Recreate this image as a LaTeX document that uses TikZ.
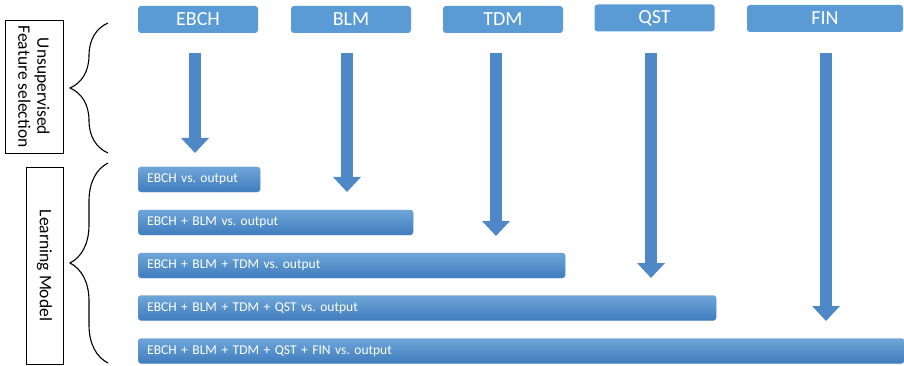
\documentclass[tikz,border=0pt]{standalone}
\usepackage{fontspec}
\setmainfont{Carlito}
\usepackage{tikz}
\usetikzlibrary{positioning, arrows.meta, decorations.pathreplacing}

\definecolor{hdblue}{RGB}{91,155,213}
\definecolor{obtop}{RGB}{110,166,217}
\definecolor{obbot}{RGB}{64,124,189}
\definecolor{arblue}{RGB}{79,136,199}

\begin{document}
\begin{tikzpicture}[x=1pt, y=-1pt,
      hd/.style={fill=hdblue, rounded corners=3pt, minimum width=120pt, minimum height=27pt,
        inner sep=0pt, text=white, font=\fontsize{20}{23}\selectfont},
      ob/.style={top color=obtop, bottom color=obbot, draw=obbot!80, rounded corners=3pt,
        anchor=west, minimum height=25pt, inner xsep=9pt, inner ysep=0pt, align=left,
        text=white, font=\fontsize{13.5}{16}\selectfont},
      lb/.style={draw, rotate=-90, inner sep=0pt, align=center, font=\fontsize{17.5}{19}\selectfont},
      arr/.style={draw=arblue, line width=12pt, -{Triangle[width=27pt, length=15pt]}},
      brc/.style={decorate, decoration={brace, amplitude=38pt, aspect=0.5}, line width=1.1pt}]
      \useasboundingbox (0,0) rectangle (904,366);
      % feature headers
      \node[hd] (ebch) at (198,19.5) {EBCH};
      \node[hd] (blm)  at (351,19.5) {BLM};
      \node[hd] (tdm)  at (503,19.5) {TDM};
      \node[hd] (qst)  at (654.5,18) {QST};
      \node[hd, minimum width=156pt] (fin) at (825,18.5) {FIN};
      % arrow ends
      \coordinate (s1) at (195,53);   \coordinate (e1) at (195,153);
      \coordinate (s2) at (347,53);   \coordinate (e2) at (347,192);
      \coordinate (s3) at (496,53);   \coordinate (e3) at (496,236);
      \coordinate (s4) at (651,53);   \coordinate (e4) at (651,278);
      \coordinate (s5) at (826,53);   \coordinate (e5) at (826,321);
      \draw[arr] (s1)--(e1); \draw[arr] (s2)--(e2); \draw[arr] (s3)--(e3);
      \draw[arr] (s4)--(e4); \draw[arr] (s5)--(e5);
      % learning models
      \node[ob, text width=104pt] (m1) at (138,179.5) {EBCH vs.\ output};
      \node[ob, text width=257pt] (m2) at (138,222.5) {EBCH + BLM vs.\ output};
      \node[ob, text width=409pt] (m3) at (138,265.5) {EBCH + BLM + TDM vs.\ output};
      \node[ob, text width=560pt] (m4) at (138,308) {EBCH + BLM + TDM + QST vs.\ output};
      \node[ob, text width=748pt] (m5) at (138,351) {EBCH + BLM + TDM + QST + FIN vs.\ output};
      % stage labels
      \node[lb, minimum width=133pt, minimum height=58pt] (uns) at (34,86.5) {Unsupervised\\Feature selection};
      \node[lb, minimum width=197pt, minimum height=37pt] (lrn) at (44.5,265.5) {Learning Model};
      \coordinate (b1t) at (108,23);  \coordinate (b1b) at (108,153);
      \coordinate (b2t) at (108,163); \coordinate (b2b) at (108,363);
      \draw[brc] (b1b)--(b1t);
      \draw[brc] (b2b)--(b2t);
    \end{tikzpicture}
\end{document}
